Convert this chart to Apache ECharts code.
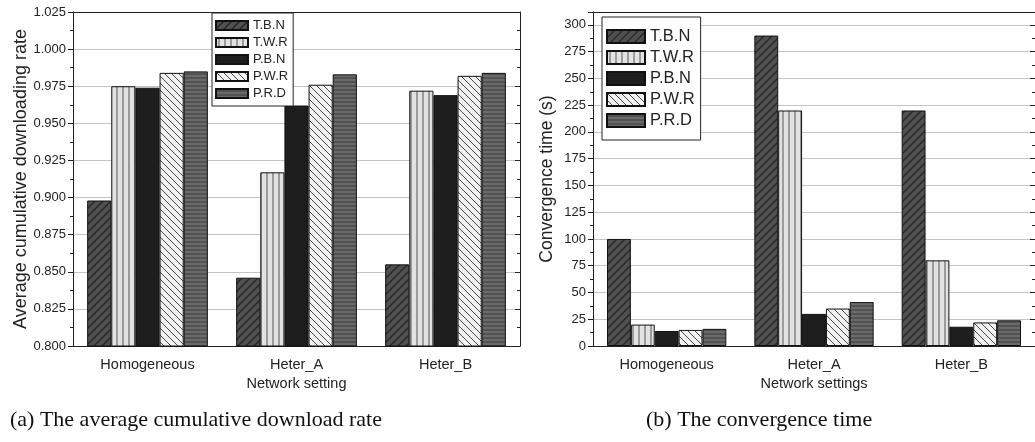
<!DOCTYPE html>
<html>
<head>
<meta charset="utf-8">
<script src="https://cdn.jsdelivr.net/npm/echarts@6/dist/echarts.min.js"></script>
<style>
html,body{margin:0;padding:0;background:#fff}
#main{width:1035px;height:442px}
</style>
</head>
<body>
<div id="main"></div>
<script>
var categories = ['Homogeneous', 'Heter_A', 'Heter_B'];
var names = ['T.B.N', 'T.W.R', 'P.B.N', 'P.W.R', 'P.R.D'];

// (a) average cumulative downloading rate
var rate_tbn = [0.898, 0.846, 0.855];
var rate_twr = [0.975, 0.917, 0.972];
var rate_pbn = [0.974, 0.962, 0.969];
var rate_pwr = [0.984, 0.976, 0.982];
var rate_prd = [0.985, 0.983, 0.984];

// (b) convergence time (s)
var time_tbn = [100, 290, 220];
var time_twr = [20, 220, 80];
var time_pbn = [14, 30, 18];
var time_pwr = [15, 35, 22];
var time_prd = [16, 41, 24];

// min, max, step
var rate_ticks = [0.800, 1.025, 0.025];
var time_ticks = [0, 312, 25];

// hatch fills like the origin plot
function makePattern(bg, fg, kind, step, lw) {
    var c = document.createElement('canvas');
    c.width = step; c.height = step;
    var g = c.getContext('2d');
    g.fillStyle = bg;
    g.fillRect(0, 0, step, step);
    if (kind) {
        g.strokeStyle = fg;
        g.lineWidth = lw;
        g.beginPath();
        if (kind == 'v') { g.moveTo(step / 2, 0); g.lineTo(step / 2, step); }
        if (kind == 'h') { g.moveTo(0, step / 2); g.lineTo(step, step / 2); }
        if (kind == '/') {
            g.moveTo(0, step); g.lineTo(step, 0);
            g.moveTo(-step, step); g.lineTo(step, -step);
            g.moveTo(0, 2 * step); g.lineTo(2 * step, 0);
        }
        if (kind == '\\') {
            g.moveTo(0, 0); g.lineTo(step, step);
            g.moveTo(-step, 0); g.lineTo(step, 2 * step);
            g.moveTo(0, -step); g.lineTo(2 * step, step);
        }
        g.stroke();
    }
    return {image: c, repeat: 'repeat'};
}

var fills = [
    makePattern('#505050', '#262626', '/', 8, 1.4),
    makePattern('#e2e2e2', '#555555', 'v', 6, 1),
    makePattern('#1e1e1e', null, null, 4, 1),
    makePattern('#f2f2f2', '#4a4a4a', '\\', 7, 1),
    makePattern('#6a6a6a', '#3a3a3a', 'h', 4, 1)
];

function bars(arrs, idx) {
    return names.map(function (n, i) {
        return {
            name: n,
            type: 'bar',
            xAxisIndex: idx * 4,
            yAxisIndex: idx * 2,
            data: arrs[i],
            barGap: '0%',
            barCategoryGap: '19%',
            clip: true,
            itemStyle: {color: fills[i], borderColor: '#111', borderWidth: 1}
        };
    });
}

var txt = '#222';
var font = 'Liberation Sans';

function xAxes(gi, title) {
    return [
        {
            type: 'category', gridIndex: gi, data: categories, position: 'bottom',
            name: title, nameLocation: 'middle', nameGap: 28,
            nameTextStyle: {color: txt, fontFamily: font, fontSize: 14.5},
            axisLine: {lineStyle: {color: txt, width: 1}},
            axisTick: {alignWithLabel: true, length: 5, lineStyle: {color: txt}},
            axisLabel: {color: txt, fontFamily: font, fontSize: 14.5, margin: 11}
        },
        {
            type: 'category', gridIndex: gi, data: categories, position: 'bottom',
            axisLine: {show: false},
            axisTick: {alignWithLabel: false, length: 3, lineStyle: {color: txt}},
            axisLabel: {show: false}
        },
        {
            type: 'category', gridIndex: gi, data: categories, position: 'top',
            axisLine: {lineStyle: {color: txt, width: 1}},
            axisTick: {alignWithLabel: true, inside: true, length: 5, lineStyle: {color: txt}},
            axisLabel: {show: false}
        },
        {
            type: 'category', gridIndex: gi, data: categories, position: 'top',
            axisLine: {show: false},
            axisTick: {alignWithLabel: false, inside: true, length: 3, lineStyle: {color: txt}},
            axisLabel: {show: false}
        }
    ];
}

function yAxes(gi, ticks, title, gap, nameSize, digits) {
    return [
        {
            type: 'value', gridIndex: gi, position: 'left',
            min: ticks[0], max: ticks[1], interval: ticks[2],
            name: title, nameLocation: 'middle', nameGap: gap,
            nameTextStyle: {color: txt, fontFamily: font, fontSize: nameSize},
            axisLine: {show: true, lineStyle: {color: txt, width: 1}},
            axisTick: {show: true, length: 5, lineStyle: {color: txt}},
            minorTick: {show: true, splitNumber: 2, length: 3, lineStyle: {color: txt}},
            axisLabel: {
                color: txt, fontFamily: font, fontSize: 13, margin: 7, showMaxLabel: digits > 0,
                formatter: function (v) { return v.toFixed(digits); }
            },
            splitLine: {show: true, lineStyle: {color: '#c4c4c4', width: 1}}
        },
        {
            type: 'value', gridIndex: gi, position: 'right',
            min: ticks[0], max: ticks[1], interval: ticks[2],
            axisLine: {show: true, lineStyle: {color: txt, width: 1}},
            axisTick: {show: true, inside: true, length: 5, lineStyle: {color: txt}},
            minorTick: {show: true, splitNumber: 2, length: 3, lineStyle: {color: txt}},
            axisLabel: {show: false},
            splitLine: {show: false}
        }
    ];
}

var chart = echarts.init(document.getElementById('main'));
var option = {
    animation: false,
    backgroundColor: '#fff',
    textStyle: {fontFamily: font},
    grid: [
        {left: 73, top: 12, width: 447, height: 334},
        {left: 593, top: 12, width: 447, height: 334}
    ],
    legend: [
        {
            data: names, orient: 'vertical', left: 212, top: 13,
            itemWidth: 32, itemHeight: 9, itemGap: 4,
            padding: [6, 5, 6, 3], borderColor: txt, borderWidth: 1,
            backgroundColor: '#fff', icon: 'rect',
            textStyle: {color: txt, fontFamily: font, fontSize: 13},
            selectedMode: false
        },
        {
            data: names, orient: 'vertical', left: 602, top: 17,
            itemWidth: 38, itemHeight: 13, itemGap: 4,
            padding: [11, 6, 11, 4], borderColor: txt, borderWidth: 1,
            backgroundColor: '#fff', icon: 'rect',
            textStyle: {color: txt, fontFamily: font, fontSize: 16.5},
            selectedMode: false
        }
    ],
    xAxis: xAxes(0, 'Network setting').concat(xAxes(1, 'Network settings')),
    yAxis: yAxes(0, rate_ticks, 'Average cumulative downloading rate', 42, 18, 3)
        .concat(yAxes(1, time_ticks, 'Convergence time (s)', 37, 17.5, 0)),
    series: bars([rate_tbn, rate_twr, rate_pbn, rate_pwr, rate_prd], 0)
        .concat(bars([time_tbn, time_twr, time_pbn, time_pwr, time_prd], 1)),
    graphic: [
        {type: 'text', x: 10, y: 420, style: {text: '(a) The average cumulative download rate', font: '22px "Liberation Serif"', fill: '#111', verticalAlign: 'middle'}},
        {type: 'text', x: 646, y: 420, style: {text: '(b) The convergence time', font: '22px "Liberation Serif"', fill: '#111', verticalAlign: 'middle'}}
    ]
};
chart.setOption(option);
</script>
</body>
</html>
